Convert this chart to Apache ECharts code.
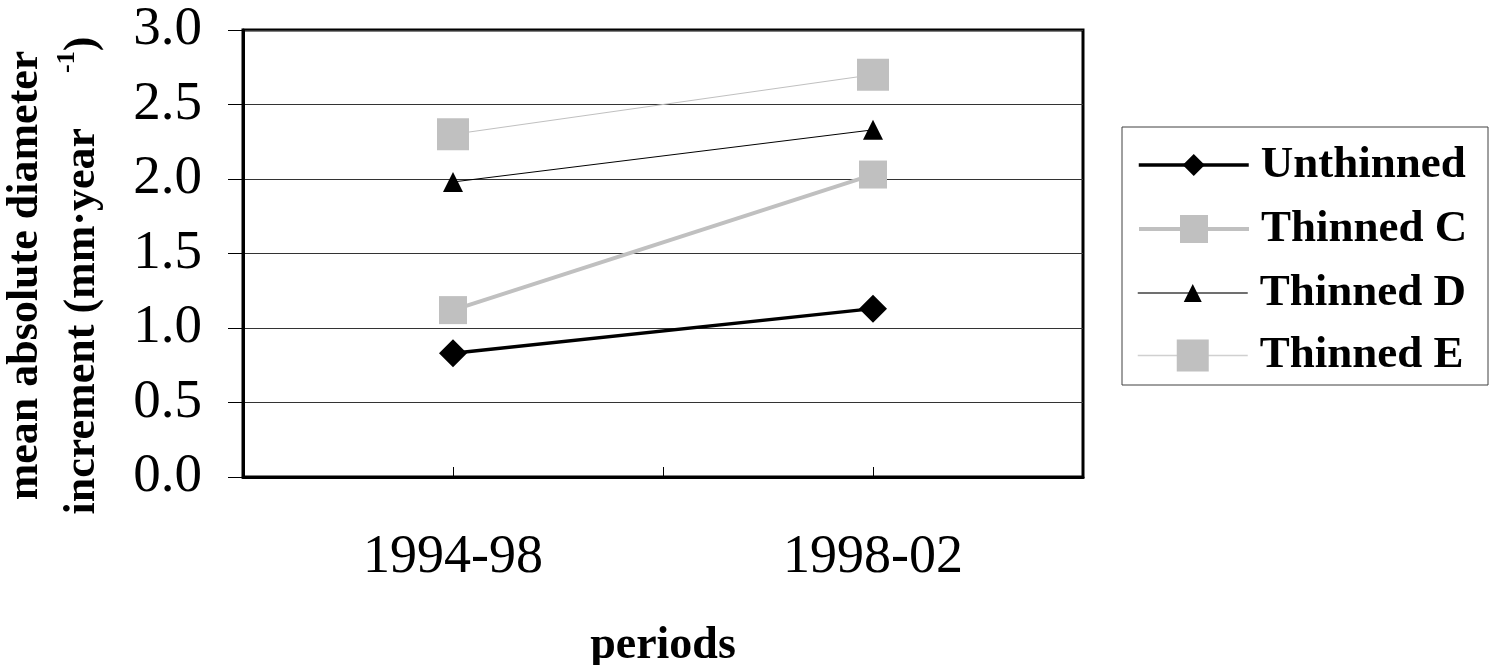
<!DOCTYPE html>
<html>
<head>
<meta charset="utf-8">
<title>mean absolute diameter increment</title>
<script src="https://cdn.jsdelivr.net/npm/echarts@6/dist/echarts.min.js"></script>
<style>
  html, body { margin: 0; padding: 0; background: #ffffff; }
  #chart { width: 1499px; height: 665px; }
</style>
</head>
<body>
<div id="chart"></div>
<script>
var categories = ['1994-98', '1998-02'];
var unthinned = [0.83, 1.13];
var thinnedC = [1.12, 2.03];
var thinnedD = [1.98, 2.33];
var thinnedE = [2.30, 2.70];
var yTicks = [0, 0.5, 1.0, 1.5, 2.0, 2.5, 3.0];

(function () {
  var SERIF = '"Liberation Serif", "Times New Roman", serif';
  var GRAY = '#c0c0c0';

  var chart = echarts.init(document.getElementById('chart'), null, { renderer: 'canvas' });

  /** 每个图例单独一个 legend，图标大小 = itemHeight * 0.8 */
  function legendFor(name, centerY, iconSize, lineColor, lineWidth) {
    var h = iconSize / 0.8;
    return {
      data: [name],
      left: 1137,
      top: centerY - Math.max(h / 2, 19.5),
      orient: 'vertical',
      padding: 0,
      itemWidth: 110,
      itemHeight: h,
      selectedMode: false,
      lineStyle: { color: lineColor, width: lineWidth },
      textStyle: {
        fontFamily: SERIF,
        fontWeight: 'bold',
        fontSize: 45,
        color: '#000',
        padding: [0, 0, 0, 7],
      },
    };
  }

  var option = {
    backgroundColor: '#ffffff',
    animation: false,
    grid: {
      left: 243,
      right: 416,
      top: 30,
      bottom: 188,
      outerBoundsMode: 'none',
      show: true,
      borderColor: '#000',
      borderWidth: 3,
      backgroundColor: 'transparent',
    },
    legend: [
      legendFor('Unthinned', 162, 22, '#000', 3.5),
      legendFor('Thinned C', 226, 28, GRAY, 4),
      legendFor('Thinned D', 290, 18, '#404040', 1.5),
      legendFor('Thinned E', 353, 32, '#d0d0d0', 1.5),
    ],
    graphic: [
      {
        type: 'rect',
        shape: { x: 1122, y: 127, width: 366, height: 258 },
        style: { fill: 'none', stroke: '#404040', lineWidth: 1 },
      },
    ],
    xAxis: [
      {
        type: 'category',
        data: categories,
        boundaryGap: true,
        name: 'periods',
        nameLocation: 'middle',
        nameGap: 146,
        nameTextStyle: {
          fontFamily: SERIF,
          fontWeight: 'bold',
          fontSize: 46,
          color: '#000',
        },
        axisLine: { show: true, lineStyle: { color: '#000', width: 3 } },
        axisTick: {
          show: true,
          alignWithLabel: true,
          inside: true,
          length: 10,
          lineStyle: { color: '#000', width: 1 },
        },
        axisLabel: {
          fontFamily: SERIF,
          fontSize: 54,
          color: '#000',
          margin: 54,
        },
        splitLine: { show: false },
      },
      {
        // 仅用于中间那根刻度
        type: 'category',
        data: categories,
        boundaryGap: true,
        position: 'bottom',
        axisLine: { show: false },
        axisTick: {
          show: true,
          inside: true,
          length: 10,
          lineStyle: { color: '#000', width: 1 },
        },
        axisLabel: { show: false },
        splitLine: { show: false },
      },
    ],
    yAxis: {
      type: 'value',
      min: yTicks[0],
      max: yTicks[yTicks.length - 1],
      interval: 0.5,
      name: '{b|mean absolute diameter}\n{b|increment (mm·year     }{s|-1}{b|)}',
      nameLocation: 'middle',
      nameRotate: 90,
      nameGap: 132,
      nameTextStyle: {
        color: '#000',
        padding: [0, 44, 0, 0],
        rich: {
          b: {
            fontFamily: SERIF,
            fontWeight: 'bold',
            fontSize: 44,
            lineHeight: 57,
            color: '#000',
          },
          s: {
            fontFamily: SERIF,
            fontWeight: 'bold',
            fontSize: 26,
            lineHeight: 57,
            verticalAlign: 'top',
            color: '#000',
          },
        },
      },
      axisLine: { show: true, lineStyle: { color: '#000', width: 3 } },
      axisTick: { show: true, length: 15, lineStyle: { color: '#000', width: 1 } },
      axisLabel: {
        fontFamily: SERIF,
        fontSize: 55,
        color: '#000',
        margin: 41,
        formatter: function (v) {
          return v.toFixed(1);
        },
      },
      splitLine: { show: true, lineStyle: { color: '#333', width: 1 } },
    },
    series: [
      {
        name: 'Unthinned',
        type: 'line',
        data: unthinned,
        symbol: 'diamond',
        symbolSize: 28,
        itemStyle: { color: '#000' },
        lineStyle: { color: '#000', width: 3.5 },
        z: 4,
      },
      {
        name: 'Thinned C',
        type: 'line',
        data: thinnedC,
        symbol: 'rect',
        symbolSize: 28,
        itemStyle: { color: GRAY },
        lineStyle: { color: GRAY, width: 4 },
        z: 3,
      },
      {
        name: 'Thinned D',
        type: 'line',
        data: thinnedD,
        symbol: 'triangle',
        symbolSize: 20,
        itemStyle: { color: '#000' },
        lineStyle: { color: '#000', width: 1 },
        z: 3,
      },
      {
        name: 'Thinned E',
        type: 'line',
        data: thinnedE,
        symbol: 'rect',
        symbolSize: 32,
        itemStyle: { color: GRAY },
        lineStyle: { color: GRAY, width: 1 },
        z: 2,
      },
    ],
  };

  chart.setOption(option);
})();
</script>
</body>
</html>
